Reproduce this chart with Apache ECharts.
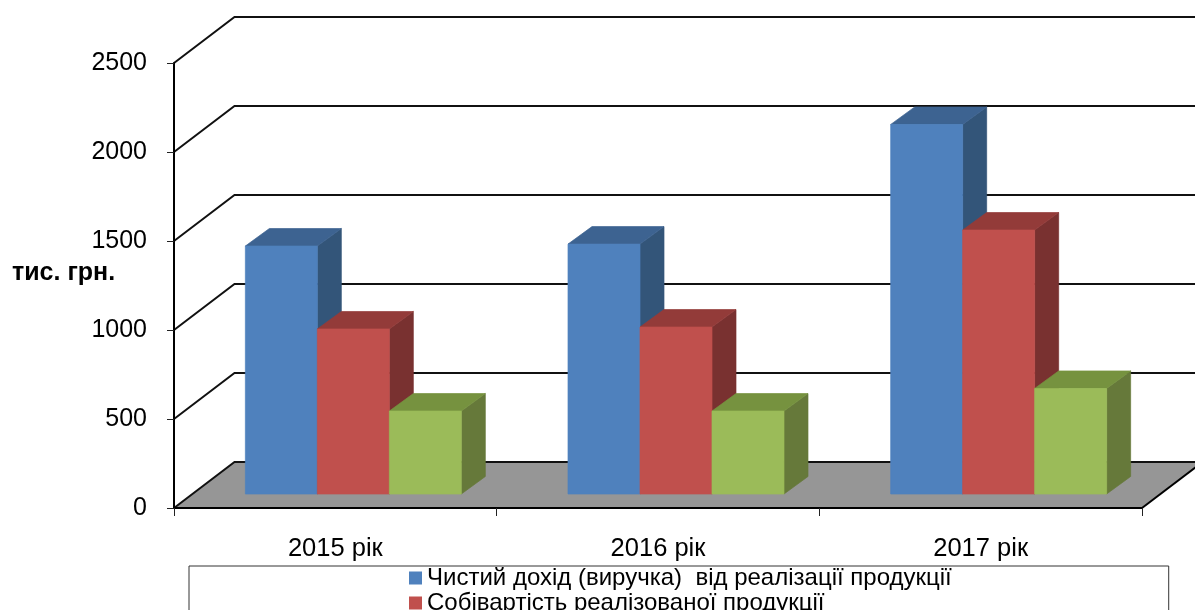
<!DOCTYPE html>
<html>
<head>
<meta charset="utf-8">
<style>html,body{margin:0;padding:0;background:#fff;overflow:hidden}#c{width:1195px;height:610px}</style>
<script src="https://cdn.jsdelivr.net/npm/echarts@6/dist/echarts.min.js"></script>
</head>
<body>
<div id="c"></div>
<script>
const categories = ['2015 рік', '2016 рік', '2017 рік'];
const revenue = [1393, 1404, 2076];
const cost = [927, 938, 1483];
const third = [466, 466, 593];
const revenueName = 'Чистий дохід (виручка)  від реалізації продукції';
const costName = 'Собівартість реалізованої продукції';
const gridTicks = [0, 500, 1000, 1500, 2000, 2500];
const yAxisTitle = 'тис. грн.';

const FONT = '"Liberation Sans", Arial, sans-serif';
const WALL = [60.5, -46];      // depth of the chart box
const FRONT = [18, -14];       // gap from front edge of floor to bars
const DEPTH = [24, -17.5];     // bar depth
const BAR_SHARE = 72 / 322.7;

const chart = echarts.init(document.getElementById('c'), null, {renderer: 'canvas'});

function barSeries(name, values, idx, front, top, side) {
  return {
    type: 'custom', name: name, z: 3,
    itemStyle: {color: front},
    data: values.map((v, i) => [i, v]),
    encode: {x: 0, y: 1},
    renderItem(params, api) {
      const p = api.coord([api.value(0), api.value(1)]);
      const z = api.coord([api.value(0), 0]);
      const w = api.size([1, 0])[0] * BAR_SHARE;
      const x0 = p[0] + (idx - 1.5) * w + FRONT[0];
      const x1 = x0 + w;
      const yt = p[1] + FRONT[1];
      const yb = z[1] + FRONT[1];
      const dx = DEPTH[0], dy = DEPTH[1];
      const poly = (pts, fill) => ({type: 'polygon', shape: {points: pts},
        style: {fill: fill, stroke: fill, lineWidth: 0.7}});
      return {type: 'group', children: [
        poly([[x1, yt], [x1 + dx, yt + dy], [x1 + dx, yb + dy], [x1, yb]], side),
        poly([[x0, yt], [x0 + dx, yt + dy], [x1 + dx, yt + dy], [x1, yt]], top),
        poly([[x0, yt], [x1, yt], [x1, yb], [x0, yb]], front)
      ]};
    }
  };
}

chart.setOption({
  animation: false,
  backgroundColor: '#fff',
  title: {
    text: yAxisTitle, left: 12, top: 261, padding: 0,
    textStyle: {fontFamily: FONT, fontSize: 25, fontWeight: 'bold', color: '#000'}
  },
  grid: {left: 174, right: 53, top: 63, bottom: 102, containLabel: false},
  legend: {
    left: 189, top: 566, height: 200, orient: 'vertical', align: 'left',
    data: [revenueName, costName],
    icon: 'rect', itemWidth: 13, itemHeight: 13, itemGap: 1,
    padding: [0, 217, 40, 220],
    borderColor: '#333', borderWidth: 1,
    textStyle: {fontFamily: FONT, fontSize: 24, lineHeight: 22, color: '#000'},
    selectedMode: false
  },
  xAxis: {
    type: 'category', data: categories, z: 5,
    axisLine: {show: true, lineStyle: {color: '#000', width: 2}},
    axisTick: {show: true, length: 8, lineStyle: {color: '#222', width: 1}},
    axisLabel: {fontFamily: FONT, fontSize: 25.5, color: '#000', margin: 28},
    splitLine: {show: false}
  },
  yAxis: {
    type: 'value', min: 0, max: 2500, interval: 500, z: 5,
    axisLine: {show: true, lineStyle: {color: '#000', width: 2}},
    axisTick: {show: true, length: 7, lineStyle: {color: '#222', width: 1}},
    axisLabel: {fontFamily: FONT, fontSize: 25, color: '#000', margin: 27, formatter: v => String(v)},
    splitLine: {show: false}
  },
  series: [
    {
      type: 'custom', z: 1, silent: true,
      data: [[0, 0]],
      encode: {x: 0, y: 1},
      renderItem(params, api) {
        const cs = params.coordSys;
        const y = api.coord([0, 0])[1];
        const L = cs.x, R = cs.x + cs.width;
        return {type: 'group', children: [
          {type: 'polygon', shape: {points: [[L, y], [L + WALL[0], y + WALL[1]], [R + WALL[0], y + WALL[1]], [R, y]]},
           style: {fill: '#969696'}},
          {type: 'line', shape: {x1: R, y1: y, x2: R + WALL[0], y2: y + WALL[1]},
           style: {stroke: '#000', lineWidth: 2}}
        ]};
      }
    },
    {
      type: 'custom', z: 2, silent: true,
      data: gridTicks.map(t => [0, t]),
      encode: {x: 0, y: 1},
      renderItem(params, api) {
        const cs = params.coordSys;
        const y = api.coord([0, api.value(1)])[1];
        const L = cs.x, R = cs.x + cs.width;
        return {type: 'polyline',
          shape: {points: [[L, y], [L + WALL[0], y + WALL[1]], [R + WALL[0], y + WALL[1]]]},
          style: {fill: 'none', stroke: '#111', lineWidth: 2}};
      }
    },
    barSeries(revenueName, revenue, 0, '#4F81BD', '#3D6391', '#335579'),
    barSeries(costName, cost, 1, '#C0504D', '#933B39', '#793130'),
    barSeries('', third, 2, '#9BBB59', '#76923F', '#66793A')
  ]
});
</script>
</body>
</html>
